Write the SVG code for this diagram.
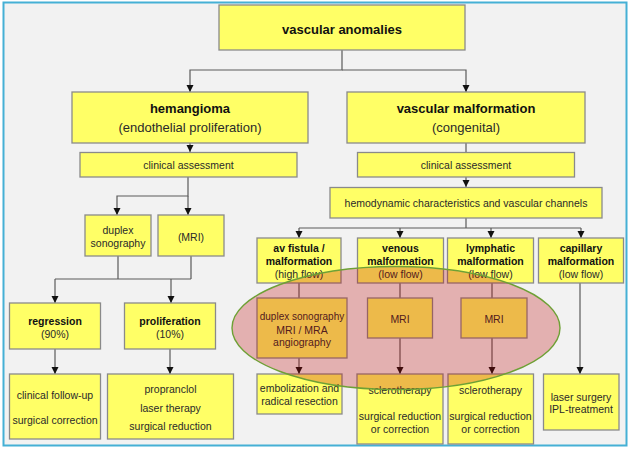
<svg xmlns="http://www.w3.org/2000/svg" width="630" height="449" viewBox="0 0 630 449">
<defs>
<style>
.box{fill:#ffff66;stroke:#8a8a8a;stroke-width:1.3}
text{font-family:"Liberation Sans",Arial,sans-serif;fill:#2a2a2a;text-anchor:middle}
.b{font-weight:bold;fill:#111}
.t13{font-size:13px}
.t10{font-size:10.5px}
.con path{fill:none;stroke:#5a5a5a;stroke-width:1.2}
</style>
<marker id="ah" markerUnits="userSpaceOnUse" markerWidth="8" markerHeight="8" refX="7" refY="4" orient="auto">
<path d="M0,0.5 L7,4 L0,7.5 z" fill="#111"/>
</marker>
</defs>
<rect x="0" y="0" width="630" height="449" fill="#ffffff"/>
<rect x="3.5" y="2.5" width="623" height="443" fill="#f2f2f2" stroke="#45b0d5" stroke-width="2"/>

<g class="con" id="connectors">
<path d="M342,50 V70 H190 V92" marker-end="url(#ah)"/>
<path d="M342,70 H466 V92" marker-end="url(#ah)"/>
<path d="M190,143 V152" marker-end="url(#ah)"/>
<path d="M466,143 V152"/>
<path d="M466,177 V187" marker-end="url(#ah)"/>
<path d="M188,177 V196 H117 V215" marker-end="url(#ah)"/>
<path d="M188,196 V215" marker-end="url(#ah)"/>
<path d="M118,256 V279 M191,256 V279 M55,279 H191"/>
<path d="M55,279 V303" marker-end="url(#ah)"/>
<path d="M171,279 V303" marker-end="url(#ah)"/>
<path d="M55,349 V374" marker-end="url(#ah)"/>
<path d="M170,349 V374" marker-end="url(#ah)"/>
<path d="M466,218 V228 M299,228 H581"/>
<path d="M299,228 V238" marker-end="url(#ah)"/>
<path d="M400,228 V238" marker-end="url(#ah)"/>
<path d="M491,228 V238" marker-end="url(#ah)"/>
<path d="M581,228 V238" marker-end="url(#ah)"/>
<path d="M299,283 V298"/>
<path d="M299,358 V374" marker-end="url(#ah)"/>
<path d="M400,283 V298"/>
<path d="M400,338 V374" marker-end="url(#ah)"/>
<path d="M492,283 V298"/>
<path d="M492,338 V374" marker-end="url(#ah)"/>
<path d="M580,283 V374" marker-end="url(#ah)"/>
</g>

<g id="n-vascular-anomalies"><rect class="box" x="219" y="5" width="246" height="45"/><text class="b t13" x="342" y="33.5">vascular anomalies</text></g>
<g id="n-hemangioma"><rect class="box" x="72" y="92" width="236" height="51"/><text class="b t13" x="190" y="113">hemangioma</text><text class="t13" x="190" y="132">(endothelial proliferation)</text></g>
<g id="n-vascular-malformation"><rect class="box" x="347" y="92" width="238" height="51"/><text class="b t13" x="466" y="113">vascular malformation</text><text class="t13" x="466" y="132">(congenital)</text></g>
<g id="n-clinical-left"><rect class="box" x="80" y="152.5" width="217" height="24.5"/><text class="t10" x="188.5" y="168.7">clinical assessment</text></g>
<g id="n-clinical-right"><rect class="box" x="357.5" y="152.5" width="217" height="24.5"/><text class="t10" x="466" y="168.7">clinical assessment</text></g>
<g id="n-hemodynamic"><rect class="box" x="330" y="187.5" width="272" height="30.5"/><text class="t10" x="466" y="206.7">hemodynamic characteristics and vascular channels</text></g>
<g id="n-duplex"><rect class="box" x="85" y="215" width="66" height="41"/><text class="t10" x="118" y="233.8">duplex</text><text class="t10" x="118" y="246.5">sonography</text></g>
<g id="n-mri-left"><rect class="box" x="158" y="215" width="66" height="41"/><text class="t10" x="191" y="240.5">(MRI)</text></g>
<g id="n-regression"><rect class="box" x="9.5" y="303" width="91" height="46"/><text class="b t10" x="55" y="324.5">regression</text><text class="t10" x="55" y="338">(90%)</text></g>
<g id="n-proliferation"><rect class="box" x="124.5" y="303" width="91" height="46"/><text class="b t10" x="170" y="324.5">proliferation</text><text class="t10" x="170" y="338">(10%)</text></g>
<g id="n-followup"><rect class="box" x="9.5" y="374" width="91" height="65"/><text class="t10" x="55" y="398.5">clinical follow-up</text><text class="t10" x="55" y="424">surgical correction</text></g>
<g id="n-propranolol"><rect class="box" x="107.5" y="374" width="126" height="65"/><text class="t10" x="170.5" y="393">propranclol</text><text class="t10" x="170.5" y="411.5">laser therapy</text><text class="t10" x="170.5" y="429.5">surgical reduction</text></g>
<g id="n-av"><rect class="box" x="257" y="238" width="84" height="45"/><text class="b t10" x="299" y="252">av fistula /</text><text class="b t10" x="299" y="265">malformation</text><text class="t10" x="299" y="278">(high flow)</text></g>
<g id="n-venous"><rect class="box" x="357.5" y="238" width="86" height="45"/><text class="b t10" x="400.5" y="252">venous</text><text class="b t10" x="400.5" y="265">malformation</text><text class="t10" x="400.5" y="278">(low flow)</text></g>
<g id="n-lymphatic"><rect class="box" x="447.5" y="238" width="86" height="45"/><text class="b t10" x="490.5" y="252">lymphatic</text><text class="b t10" x="490.5" y="265">malformation</text><text class="t10" x="490.5" y="278">(low flow)</text></g>
<g id="n-capillary"><rect class="box" x="538.5" y="238" width="85" height="45"/><text class="b t10" x="581" y="252">capillary</text><text class="b t10" x="581" y="265">malformation</text><text class="t10" x="581" y="278">(low flow)</text></g>
<g id="n-av-imaging"><rect class="box" x="257" y="298" width="90" height="60"/><text style="font-size:10px" x="302" y="320">duplex sonography</text><text class="t10" x="302" y="334">MRI / MRA</text><text class="t10" x="302" y="345.5">angiography</text></g>
<g id="n-venous-mri"><rect class="box" x="367.5" y="298" width="65" height="40"/><text class="t10" x="400" y="322.8">MRI</text></g>
<g id="n-lymph-mri"><rect class="box" x="461" y="298" width="66" height="40"/><text class="t10" x="494" y="322.8">MRI</text></g>
<g id="n-embolization"><rect class="box" x="257" y="374" width="85" height="40"/><text class="t10" x="299.5" y="392">embolization and</text><text class="t10" x="299.5" y="405">radical resection</text></g>
<g id="n-sclero-venous"><rect class="box" x="357" y="374" width="86" height="70"/><text class="t10" x="400" y="393.8">sclerotherapy</text><text class="t10" x="400" y="419.5">surgical reduction</text><text class="t10" x="400" y="432.5">or correction</text></g>
<g id="n-sclero-lymph"><rect class="box" x="448" y="374" width="85.5" height="70"/><text class="t10" x="490.5" y="393.8">sclerotherapy</text><text class="t10" x="490.5" y="419.5">surgical reduction</text><text class="t10" x="490.5" y="432.5">or correction</text></g>
<g id="n-laser"><rect class="box" x="543.5" y="374" width="75.5" height="56"/><text class="t10" x="581" y="400.5">laser surgery</text><text class="t10" x="581" y="413">IPL-treatment</text></g>

<g id="highlight">
<ellipse cx="396" cy="328" rx="164" ry="61.5" fill="rgb(190,0,0)" fill-opacity="0.27"/>
<ellipse cx="396" cy="328" rx="164" ry="61.5" fill="none" stroke="#6ea035" stroke-width="1.4"/>
</g>
</svg>
